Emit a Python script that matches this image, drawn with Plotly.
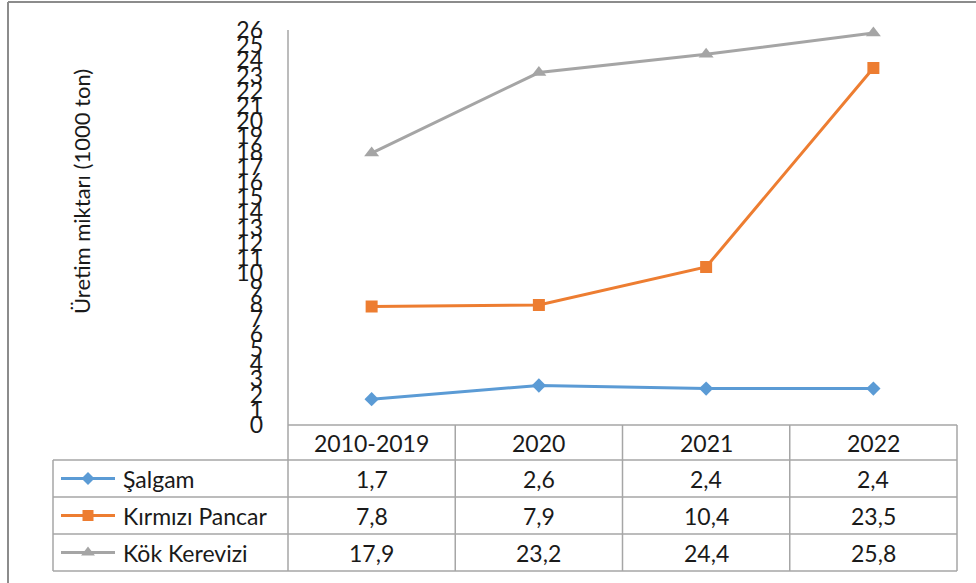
import plotly.graph_objects as go

# Production data (1000 tons)
periods = ["2010-2019", "2020", "2021", "2022"]
series_names = ["Şalgam", "Kırmızı Pancar", "Kök Kerevizi"]
salgam = [1.7, 2.6, 2.4, 2.4]
kirmizi_pancar = [7.8, 7.9, 10.4, 23.5]
kok_kerevizi = [17.9, 23.2, 24.4, 25.8]
y_ticks = list(range(0, 27))
y_title = "Üretim miktarı (1000 ton)"

series_values = [salgam, kirmizi_pancar, kok_kerevizi]
colors = ["#5B9BD5", "#ED7D31", "#A5A5A5"]
symbols = ["diamond", "square", "triangle-up"]
marker_sizes = [11, 12, 13]

W, H = 976, 583
FONT = "Lato"
TEXT = "#1a1a1a"
GRID = "#a6a6a6"

# pixel layout
plot_left, plot_right = 288, 957
plot_top, plot_bottom = 30, 425
table_left = 53
row_edges = [425, 460, 497, 534, 571]
col_w = (plot_right - plot_left) / len(periods)
col_edges = [plot_left + i * col_w for i in range(len(periods) + 1)]


def fx(x):
    return x / W


def fy(y):
    return 1 - y / H


def label(x, y, text, size, anchor="center", angle=0):
    return dict(x=fx(x), y=fy(y), xref="paper", yref="paper", text=text,
                xanchor=anchor, yanchor="middle", textangle=angle, showarrow=False,
                font=dict(family=FONT, size=size, color=TEXT))


fig = go.Figure()

for name, vals, c, s, ms in zip(series_names, series_values, colors, symbols, marker_sizes):
    fig.add_trace(go.Scatter(
        x=list(range(len(periods))), y=vals, mode="lines+markers", name=name,
        line=dict(color=c, width=3), marker=dict(color=c, symbol=s, size=ms),
        xaxis="x", yaxis="y", showlegend=False, hoverinfo="skip", cliponaxis=False))

# legend keys inside the data table (full-page pixel axes)
for i, (c, s, ms) in enumerate(zip(colors, symbols, marker_sizes)):
    yc = (row_edges[i + 1] + row_edges[i + 2]) / 2
    fig.add_trace(go.Scatter(
        x=[61, 88, 115], y=[yc, yc, yc], mode="lines",
        line=dict(color=c, width=3), xaxis="x2", yaxis="y2",
        showlegend=False, hoverinfo="skip"))
    fig.add_trace(go.Scatter(
        x=[88], y=[yc], mode="markers",
        marker=dict(color=c, symbol=s, size=ms - 1), xaxis="x2", yaxis="y2",
        showlegend=False, hoverinfo="skip"))

shapes = []
# y axis line and table grid
shapes.append(dict(type="line", xref="paper", yref="paper",
                   x0=fx(plot_left), x1=fx(plot_left), y0=fy(plot_top), y1=fy(row_edges[-1]),
                   line=dict(color=GRID, width=1.5)))
shapes.append(dict(type="line", xref="paper", yref="paper",
                   x0=fx(plot_left), x1=fx(plot_right), y0=fy(row_edges[0]), y1=fy(row_edges[0]),
                   line=dict(color=GRID, width=1.5)))
for r in row_edges[1:]:
    shapes.append(dict(type="line", xref="paper", yref="paper",
                       x0=fx(table_left), x1=fx(plot_right), y0=fy(r), y1=fy(r),
                       line=dict(color=GRID, width=1.5)))
shapes.append(dict(type="line", xref="paper", yref="paper",
                   x0=fx(table_left), x1=fx(table_left), y0=fy(row_edges[1]), y1=fy(row_edges[-1]),
                   line=dict(color=GRID, width=1.5)))
for cx in col_edges[1:]:
    shapes.append(dict(type="line", xref="paper", yref="paper",
                       x0=fx(cx), x1=fx(cx), y0=fy(row_edges[0]), y1=fy(row_edges[-1]),
                       line=dict(color=GRID, width=1.5)))
# outer chart frame
shapes.append(dict(type="line", xref="paper", yref="paper",
                   x0=fx(8), x1=1, y0=fy(2), y1=fy(2), line=dict(color="#8c8c8c", width=2)))
shapes.append(dict(type="line", xref="paper", yref="paper",
                   x0=fx(8), x1=fx(8), y0=fy(2), y1=0, line=dict(color="#8c8c8c", width=2)))

annotations = []
fs = 23
for j, p in enumerate(periods):
    xc = (col_edges[j] + col_edges[j + 1]) / 2
    annotations.append(label(xc, (row_edges[0] + row_edges[1]) / 2, p, fs))
    for i, vals in enumerate(series_values):
        yc = (row_edges[i + 1] + row_edges[i + 2]) / 2
        annotations.append(label(xc, yc, f"{vals[j]:.1f}".replace(".", ","), fs))
for i, name in enumerate(series_names):
    yc = (row_edges[i + 1] + row_edges[i + 2]) / 2
    annotations.append(label(121, yc, name, fs, anchor="left"))
annotations.append(label(82, 192, y_title, 22, angle=-90))

fig.update_layout(
    template="none",
    width=W, height=H, margin=dict(l=0, r=0, t=0, b=0, pad=0), autosize=False,
    paper_bgcolor="white", plot_bgcolor="rgba(0,0,0,0)",
    xaxis=dict(domain=[fx(plot_left), fx(plot_right)], range=[-0.5, len(periods) - 0.5],
               showgrid=False, zeroline=False, showticklabels=False, showline=False,
               ticks="", automargin=False, fixedrange=True),
    yaxis=dict(domain=[fy(plot_bottom), fy(plot_top)], range=[0, 26], tickvals=y_ticks,
               ticktext=[str(t) for t in y_ticks], showgrid=False, zeroline=False, showline=False,
               ticks="", ticklabelstandoff=24, automargin=False,
               tickfont=dict(family=FONT, size=23, color=TEXT), fixedrange=True),
    xaxis2=dict(domain=[0, 1], range=[0, W], visible=False, anchor="y2", automargin=False),
    yaxis2=dict(domain=[0, 1], range=[H, 0], visible=False, anchor="x2", automargin=False),
    shapes=shapes, annotations=annotations,
)

fig.write_html("out.html")
